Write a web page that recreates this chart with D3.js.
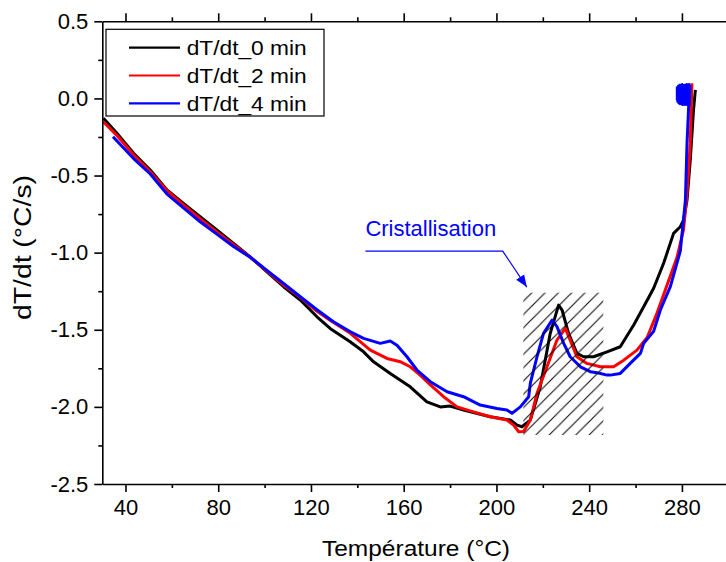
<!DOCTYPE html>
<html><head><meta charset="utf-8">
<script src="https://cdn.jsdelivr.net/npm/d3@7"></script>
<style>
body{margin:0;background:#fff;}
text{font-family:Arial,"Liberation Sans",sans-serif;}
</style></head>
<body><svg id="c" width="726" height="562"></svg>
<script>
// ---- data (Température °C, dT/dt °C/s) ----
const seriesNames = ["dT/dt_0 min","dT/dt_2 min","dT/dt_4 min"];
const seriesColors = ["#000000","#ff0000","#0000ff"];
const temp0 = [30.5,36.3,43.5,50.7,57.9,65,72.2,79.4,86.6,93.8,101,108.2,115.4,122.6,128.4,136.9,142.7,147,154.2,162.8,170,175.8,180,185.8,197.3,206,208.9,211,214.6,218.9,223.2,226.8,228.3,231.1,234.7,237.6,241.9,247.7,253.4,259.2,263.5,267.8,272.1,276.4,279.3,280.7,282.2,283.6,285,285.8];
const val0  = [-0.129,-0.226,-0.356,-0.464,-0.594,-0.68,-0.767,-0.853,-0.94,-1.027,-1.124,-1.221,-1.307,-1.416,-1.493,-1.578,-1.643,-1.708,-1.783,-1.87,-1.967,-2.0,-1.995,-2.02,-2.064,-2.085,-2.118,-2.129,-2.086,-1.87,-1.523,-1.34,-1.372,-1.523,-1.653,-1.675,-1.675,-1.643,-1.61,-1.469,-1.351,-1.231,-1.069,-0.875,-0.832,-0.789,-0.66,-0.4,-0.075,0.056];
const temp2 = [30.4,36.3,43.5,50.7,57.9,65,72.2,79.4,86.6,93.8,101,108.2,115.4,122.6,128.4,137,145.6,152.8,158.5,162.8,167.1,171.5,177.2,183,190.1,197.3,204.5,207.4,209.6,211.7,214.6,217.5,221.8,226.1,229.7,231.8,234.7,239,244.8,250.5,254.9,260.6,265,269.3,273.6,277.9,280.7,282.2,283.6,284.3];
const val2  = [-0.151,-0.24,-0.365,-0.475,-0.598,-0.69,-0.78,-0.865,-0.948,-1.03,-1.12,-1.21,-1.29,-1.38,-1.44,-1.523,-1.632,-1.686,-1.707,-1.74,-1.794,-1.858,-1.934,-2.0,-2.032,-2.064,-2.085,-2.118,-2.161,-2.16,-2.086,-1.912,-1.74,-1.567,-1.491,-1.567,-1.675,-1.718,-1.74,-1.74,-1.697,-1.632,-1.55,-1.39,-1.21,-1.03,-0.85,-0.62,-0.29,0.098];
const temp4 = [34.6,43.5,50.7,57.9,65,72.2,79.4,86.6,93.8,101,108.2,115.4,122.6,129.7,137,142.7,149.9,154.2,157.1,161.4,165.7,171.5,178.7,185.8,193,200.2,204.5,206.7,210.3,213.9,214.6,217.5,220.3,224,226.1,229,231.8,236.2,240.5,244,247.7,249.1,253.4,257.7,262.1,263.5,267.8,270.7,275,279.3,281.5,282.2,282.9,
  283.5,283.2,283.0,282.7,282.5,282.2,282.0,281.7,281.5,281.2,281.0,280.7,280.5,280.2,280.0,279.7,279.5,279.2,279.0,278.7,278.5,278.2,278.0,278.0];
const val4  = [-0.248,-0.39,-0.49,-0.62,-0.71,-0.8,-0.88,-0.96,-1.03,-1.115,-1.2,-1.286,-1.37,-1.448,-1.513,-1.556,-1.588,-1.573,-1.6,-1.675,-1.761,-1.837,-1.902,-1.934,-1.988,-2.01,-2.02,-2.042,-2.0,-1.934,-1.848,-1.675,-1.523,-1.437,-1.48,-1.588,-1.675,-1.74,-1.772,-1.78,-1.794,-1.794,-1.783,-1.718,-1.653,-1.588,-1.51,-1.372,-1.22,-0.99,-0.66,-0.29,-0.054,
  0.08,-0.04,0.09,-0.03,0.08,-0.04,0.09,-0.03,0.08,-0.04,0.085,-0.03,0.08,-0.04,0.09,-0.03,0.08,-0.035,0.085,-0.03,0.08,-0.02,0.07,-0.01];
const xTicks = [40,80,120,160,200,240,280];
const xMinorTicks = [60,100,140,180,220,260,300];
const yTicks = [0.5,0.0,-0.5,-1.0,-1.5,-2.0,-2.5];
const yMinorTicks = [0.25,-0.25,-0.75,-1.25,-1.75,-2.25];
const xLabel = "Température (°C)";
const yLabel = "dT/dt (°C/s)";
const annotText = "Cristallisation";
const hatchTemps = [211.6,246.1];
const hatchVals = [-1.26,-2.182];
const annotPath = [[143.5,-0.99],[202.7,-0.99],[213.1,-1.223]];

// ---- chart ----
const svg = d3.select("#c");
const x = d3.scaleLinear().domain([30,300]).range([102.3,728.3]);
const y = d3.scaleLinear().domain([-2.5,0.5]).range([484,21.3]);
const fmt = d => d.toFixed(1).replace("\u2212","-");

// hatch pattern
const defs = svg.append("defs");
const pat = defs.append("pattern").attr("id","hatch").attr("patternUnits","userSpaceOnUse")
  .attr("width",13.3).attr("height",13.3);
pat.append("path").attr("d","M-2,15.3 L15.3,-2 M-2,2 L2,-2 M11.3,15.3 L15.3,11.3")
  .attr("stroke","#000").attr("stroke-width",1);
defs.append("clipPath").attr("id","clip").append("rect")
  .attr("x",x(30)).attr("y",y(0.5)).attr("width",x(300)-x(30)).attr("height",y(-2.5)-y(0.5));

const series = [[temp0,val0],[temp2,val2],[temp4,val4]];
const line = d3.line().x(d=>x(d[0])).y(d=>y(d[1]));
const g = svg.append("g").attr("clip-path","url(#clip)");
series.forEach((s,i)=>{
  const pts = s[0].map((t,j)=>[t,s[1][j]]);
  g.append("path").datum(pts).attr("d",line).attr("fill","none")
   .attr("stroke",seriesColors[i]).attr("stroke-width",3).attr("stroke-linejoin","round");
});

// hatch rect
svg.append("rect").attr("x",x(hatchTemps[0])).attr("y",y(hatchVals[0]))
  .attr("width",x(hatchTemps[1])-x(hatchTemps[0])).attr("height",y(hatchVals[1])-y(hatchVals[0]))
  .attr("fill","url(#hatch)");

// axes
function styleAxis(sel){
  sel.select(".domain").attr("stroke","#000").attr("stroke-width",1.6);
  sel.selectAll(".tick line").attr("stroke","#000").attr("stroke-width",1.6);
  sel.selectAll("text").attr("fill","#000").style("font-size","22px")
     .style("font-family","Arial, 'Liberation Sans', sans-serif");
}
const xb = svg.append("g").attr("transform",`translate(0,${y(-2.5)})`)
  .call(d3.axisBottom(x).tickValues(xTicks).tickSize(8).tickPadding(7).tickFormat(d3.format("d")).tickSizeOuter(0));
styleAxis(xb);
const xbm = svg.append("g").attr("transform",`translate(0,${y(-2.5)})`)
  .call(d3.axisBottom(x).tickValues(xMinorTicks).tickSize(4).tickFormat("").tickSizeOuter(0));
styleAxis(xbm); xbm.select(".domain").remove();
const xt = svg.append("g").attr("transform",`translate(0,${y(0.5)})`)
  .call(d3.axisTop(x).tickValues(xTicks).tickSize(8).tickFormat("").tickSizeOuter(0));
styleAxis(xt);
const xtm = svg.append("g").attr("transform",`translate(0,${y(0.5)})`)
  .call(d3.axisTop(x).tickValues(xMinorTicks).tickSize(4).tickFormat("").tickSizeOuter(0));
styleAxis(xtm); xtm.select(".domain").remove();
const yl = svg.append("g").attr("transform",`translate(${x(30)},0)`)
  .call(d3.axisLeft(y).tickValues(yTicks).tickSize(8).tickPadding(6).tickFormat(fmt).tickSizeOuter(0));
styleAxis(yl);
const ylm = svg.append("g").attr("transform",`translate(${x(30)},0)`)
  .call(d3.axisLeft(y).tickValues(yMinorTicks).tickSize(4).tickFormat("").tickSizeOuter(0));
styleAxis(ylm); ylm.select(".domain").remove();

// axis titles
svg.append("text").attr("x",416).attr("y",556).attr("text-anchor","middle")
  .attr("textLength",188).attr("lengthAdjust","spacingAndGlyphs")
  .style("font-size","22px").text(xLabel);
svg.append("text").attr("transform","translate(31,247.5) rotate(-90)").attr("text-anchor","middle")
  .attr("textLength",145).attr("lengthAdjust","spacingAndGlyphs")
  .style("font-size","23px").text(yLabel);

// legend
const lg = svg.append("g");
lg.append("rect").attr("x",106).attr("y",29.3).attr("width",218).attr("height",86.7)
  .attr("fill","#fff").attr("stroke","#000").attr("stroke-width",1.2);
seriesNames.forEach((n,i)=>{
  const yy = 47.7 + i*27.8;
  lg.append("line").attr("x1",129).attr("x2",180).attr("y1",yy).attr("y2",yy)
    .attr("stroke",seriesColors[i]).attr("stroke-width",2.2);
  lg.append("text").attr("x",186.7).attr("y",yy+7.4)
    .attr("textLength",120).attr("lengthAdjust","spacingAndGlyphs")
    .style("font-size","21px").text(n);
});

// annotation
svg.append("text").attr("x",x(annotPath[1][0])-6.5).attr("y",y(annotPath[0][1])-15.5)
  .attr("text-anchor","end").attr("fill","#0000ff").style("font-size","22px").text(annotText);
defs.append("marker").attr("id","arr").attr("viewBox","0 0 10 10").attr("refX",10).attr("refY",5)
  .attr("markerWidth",12).attr("markerHeight",12).attr("markerUnits","userSpaceOnUse").attr("orient","auto")
  .append("path").attr("d","M0,1 L10,5 L0,9 Z").attr("fill","#0000ff");
svg.append("path").attr("d",d3.line().x(d=>x(d[0])).y(d=>y(d[1]))(annotPath))
  .attr("fill","none").attr("stroke","#0000ff").attr("stroke-width",1.2).attr("marker-end","url(#arr)");
</script></body></html>
